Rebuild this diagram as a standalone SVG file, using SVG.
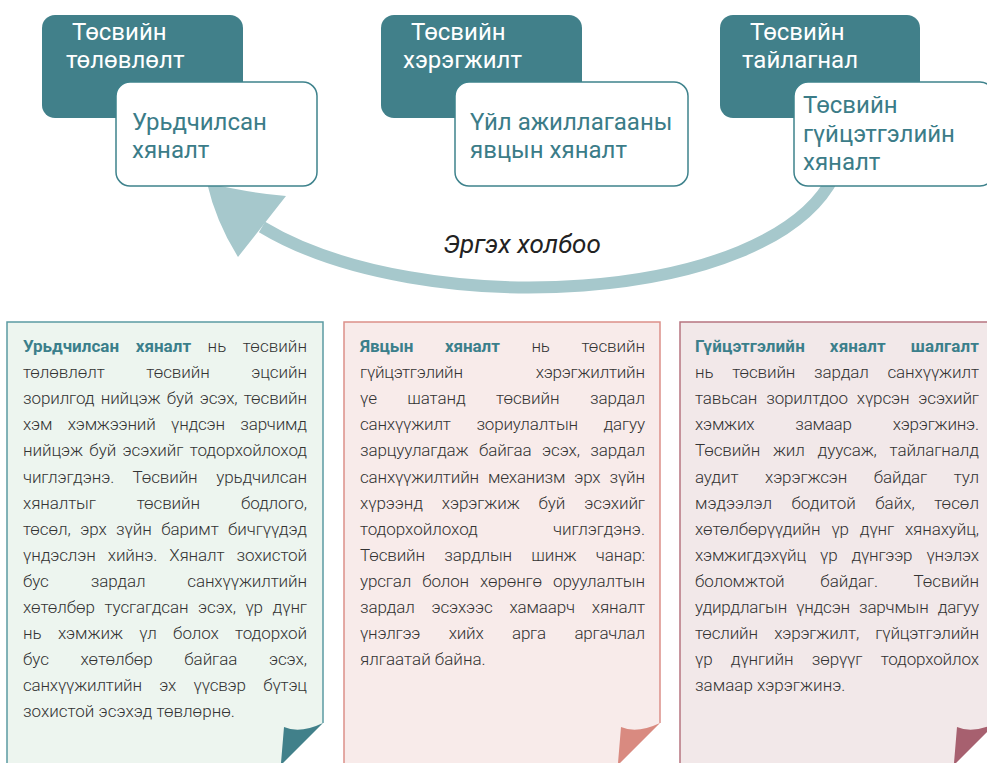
<svg xmlns="http://www.w3.org/2000/svg" width="987" height="763" viewBox="0 0 987 763">
<style>
.dk{fill:#41808a}
.wb{fill:#ffffff;stroke:#3e828c;stroke-width:1.5}
.tw{font-family:Roboto,"Liberation Sans",sans-serif;font-size:24px;fill:#ffffff}
.tt{font-family:Roboto,"Liberation Sans",sans-serif;font-size:24px;fill:#3b7c88}
.b{font-family:Roboto,"Liberation Sans",sans-serif;font-weight:300;font-size:17px;fill:#333333}
.h{font-weight:700;fill:#3b7f8b}
</style>
<rect width="987" height="763" fill="#ffffff"/>
<g id="connectors">
<path d="M 834,176 C 770,305 420,322 262,227" fill="none" stroke="#a6c8cc" stroke-width="12"/>
<path d="M 207,183 Q 250,193 286,196 L 238,257 Q 216,222 207,183 Z" fill="#a6c8cc"/>
<text x="522" y="253" text-anchor="middle" font-family="Roboto,'Liberation Sans',sans-serif" font-style="italic" font-size="26" fill="#222222">Эргэх холбоо</text>
</g>
<g id="node-planning">
<rect class="dk" x="42" y="15" width="201" height="103" rx="13"/>
<text class="tw"><tspan x="72" y="40">Төсвийн</tspan><tspan x="66" y="68">төлөвлөлт</tspan></text>
<rect class="wb" x="116" y="82" width="201" height="104" rx="14"/>
<text class="tt"><tspan x="132" y="130">Урьдчилсан</tspan><tspan x="132" y="158">хяналт</tspan></text>
</g>
<g id="node-execution">
<rect class="dk" x="381" y="15" width="201" height="103" rx="13"/>
<text class="tw"><tspan x="411" y="40">Төсвийн</tspan><tspan x="403" y="68">хэрэгжилт</tspan></text>
<rect class="wb" x="455" y="82" width="233" height="104" rx="14"/>
<text class="tt"><tspan x="470" y="130">Үйл ажиллагааны</tspan><tspan x="470" y="158">явцын хяналт</tspan></text>
</g>
<g id="node-reporting">
<rect class="dk" x="720" y="15" width="200" height="103" rx="13"/>
<text class="tw"><tspan x="750" y="40">Төсвийн</tspan><tspan x="742" y="68">тайлагнал</tspan></text>
<rect class="wb" x="794" y="82" width="200" height="104" rx="14"/>
<text class="tt"><tspan x="803" y="113">Төсвийн</tspan><tspan x="803" y="142">гүйцэтгэлийн</tspan><tspan x="803" y="170">хяналт</tspan></text>
</g>
<g id="panel-1">
<path d="M7,322 H323 V723 L283,763 H7 Z" fill="#edf5ef"/>
<path d="M7,763 V322 H323 V723" fill="none" stroke="#5b9ba3" stroke-width="1.5"/>
<path d="M284,727 Q300,734 323,723 L283,763 L281,763 Z" fill="#41808a"/>
<text class="b" x="23" y="352" textLength="284" lengthAdjust="spacing" style="word-spacing:12.3px"><tspan class="h">Урьдчилсан хяналт</tspan> нь төсвийн</text>
<text class="b" x="23" y="378.1" textLength="284" lengthAdjust="spacing" style="word-spacing:37.5px">төлөвлөлт төсвийн эцсийн</text>
<text class="b" x="23" y="404.2" textLength="284" lengthAdjust="spacing" style="word-spacing:2.3px">зорилгод нийцэж буй эсэх, төсвийн</text>
<text class="b" x="23" y="430.3" textLength="284" lengthAdjust="spacing" style="word-spacing:11.6px">хэм хэмжээний үндсэн зарчимд</text>
<text class="b" x="23" y="456.4" textLength="284" lengthAdjust="spacing" style="word-spacing:2.4px">нийцэж буй эсэхийг тодорхойлоход</text>
<text class="b" x="23" y="482.5" textLength="284" lengthAdjust="spacing" style="word-spacing:14.7px">чиглэгдэнэ. Төсвийн урьдчилсан</text>
<text class="b" x="23" y="508.6" textLength="284" lengthAdjust="spacing" style="word-spacing:37px">хяналтыг төсвийн бодлого,</text>
<text class="b" x="23" y="534.7" textLength="284" lengthAdjust="spacing" style="word-spacing:5.4px">төсөл, эрх зүйн баримт бичгүүдэд</text>
<text class="b" x="23" y="560.8" textLength="284" lengthAdjust="spacing" style="word-spacing:8px">үндэслэн хийнэ. Хяналт зохистой</text>
<text class="b" x="23" y="586.9" textLength="284" lengthAdjust="spacing" style="word-spacing:38px">бус зардал санхүүжилтийн</text>
<text class="b" x="23" y="613" textLength="284" lengthAdjust="spacing" style="word-spacing:5.6px">хөтөлбөр тусгагдсан эсэх, үр дүнг</text>
<text class="b" x="23" y="639.1" textLength="284" lengthAdjust="spacing" style="word-spacing:12.3px">нь хэмжиж үл болох тодорхой</text>
<text class="b" x="23" y="665.2" textLength="284" lengthAdjust="spacing" style="word-spacing:27.5px">бус хөтөлбөр байгаа эсэх,</text>
<text class="b" x="23" y="691.3" textLength="284" lengthAdjust="spacing" style="word-spacing:13.5px">санхүүжилтийн эх үүсвэр бүтэц</text>
<text class="b" x="23" y="717.4">зохистой эсэхэд төвлөрнө.</text>
</g>
<g id="panel-2">
<path d="M344,322 H660 V723 L620,763 H344 Z" fill="#f8ebea"/>
<path d="M344,763 V322 H660 V723" fill="none" stroke="#dc9089" stroke-width="1.5"/>
<path d="M621,727 Q637,734 660,723 L620,763 L618,763 Z" fill="#d98a80"/>
<text class="b" x="360" y="352" textLength="285" lengthAdjust="spacing" style="word-spacing:27.6px"><tspan class="h">Явцын хяналт</tspan> нь төсвийн</text>
<text class="b" x="360" y="378.1" textLength="285" lengthAdjust="spacing" style="word-spacing:69px">гүйцэтгэлийн хэрэгжилтийн</text>
<text class="b" x="360" y="404.2" textLength="285" lengthAdjust="spacing" style="word-spacing:26.3px">үе шатанд төсвийн зардал</text>
<text class="b" x="360" y="430.3" textLength="285" lengthAdjust="spacing" style="word-spacing:21.7px">санхүүжилт зориулалтын дагуу</text>
<text class="b" x="360" y="456.4" textLength="285" lengthAdjust="spacing" style="word-spacing:6.4px">зарцуулагдаж байгаа эсэх, зардал</text>
<text class="b" x="360" y="482.5" textLength="285" lengthAdjust="spacing" style="word-spacing:5.1px">санхүүжилтийн механизм эрх зүйн</text>
<text class="b" x="360" y="508.6" textLength="285" lengthAdjust="spacing" style="word-spacing:14.9px">хүрээнд хэрэгжиж буй эсэхийг</text>
<text class="b" x="360" y="534.7" textLength="285" lengthAdjust="spacing" style="word-spacing:71px">тодорхойлоход чиглэгдэнэ.</text>
<text class="b" x="360" y="560.8" textLength="285" lengthAdjust="spacing" style="word-spacing:15.4px">Төсвийн зардлын шинж чанар:</text>
<text class="b" x="360" y="586.9" textLength="285" lengthAdjust="spacing" style="word-spacing:7.1px">урсгал болон хөрөнгө оруулалтын</text>
<text class="b" x="360" y="613" textLength="285" lengthAdjust="spacing" style="word-spacing:12.8px">зардал эсэхээс хамаарч хяналт</text>
<text class="b" x="360" y="639.1" textLength="285" lengthAdjust="spacing" style="word-spacing:24.6px">үнэлгээ хийх арга аргачлал</text>
<text class="b" x="360" y="665.2">ялгаатай байна.</text>
</g>
<g id="panel-3">
<path d="M680,322 H996 V723 L956,763 H680 Z" fill="#f2e8e9"/>
<path d="M680,763 V322 H996 V723" fill="none" stroke="#b67480" stroke-width="1.5"/>
<path d="M957,727 Q973,734 996,723 L956,763 L954,763 Z" fill="#a7606f"/>
<text class="b" x="695" y="352" textLength="284" lengthAdjust="spacing" style="word-spacing:20.6px"><tspan class="h">Гүйцэтгэлийн хяналт шалгалт</tspan></text>
<text class="b" x="695" y="378.1" textLength="284" lengthAdjust="spacing" style="word-spacing:14.7px">нь төсвийн зардал санхүүжилт</text>
<text class="b" x="695" y="404.2" textLength="284" lengthAdjust="spacing" style="word-spacing:4.9px">тавьсан зорилтдоо хүрсэн эсэхийг</text>
<text class="b" x="695" y="430.3" textLength="284" lengthAdjust="spacing" style="word-spacing:37px">хэмжих замаар хэрэгжинэ.</text>
<text class="b" x="695" y="456.4" textLength="284" lengthAdjust="spacing" style="word-spacing:8.8px">Төсвийн жил дуусаж, тайлагналд</text>
<text class="b" x="695" y="482.5" textLength="284" lengthAdjust="spacing" style="word-spacing:22.6px">аудит хэрэгжсэн байдаг тул</text>
<text class="b" x="695" y="508.6" textLength="284" lengthAdjust="spacing" style="word-spacing:15.5px">мэдээлэл бодитой байх, төсөл</text>
<text class="b" x="695" y="534.7" textLength="284" lengthAdjust="spacing" style="word-spacing:6.9px">хөтөлбөрүүдийн үр дүнг хянахуйц,</text>
<text class="b" x="695" y="560.8" textLength="284" lengthAdjust="spacing" style="word-spacing:10.3px">хэмжигдэхүйц үр дүнгээр үнэлэх</text>
<text class="b" x="695" y="586.9" textLength="284" lengthAdjust="spacing" style="word-spacing:31.7px">боломжтой байдаг. Төсвийн</text>
<text class="b" x="695" y="613" textLength="284" lengthAdjust="spacing" style="word-spacing:5.2px">удирдлагын үндсэн зарчмын дагуу</text>
<text class="b" x="695" y="639.1" textLength="284" lengthAdjust="spacing" style="word-spacing:12.4px">төслийн хэрэгжилт, гүйцэтгэлийн</text>
<text class="b" x="695" y="665.2" textLength="284" lengthAdjust="spacing" style="word-spacing:14.3px">үр дүнгийн зөрүүг тодорхойлох</text>
<text class="b" x="695" y="691.3">замаар хэрэгжинэ.</text>
</g>
</svg>
